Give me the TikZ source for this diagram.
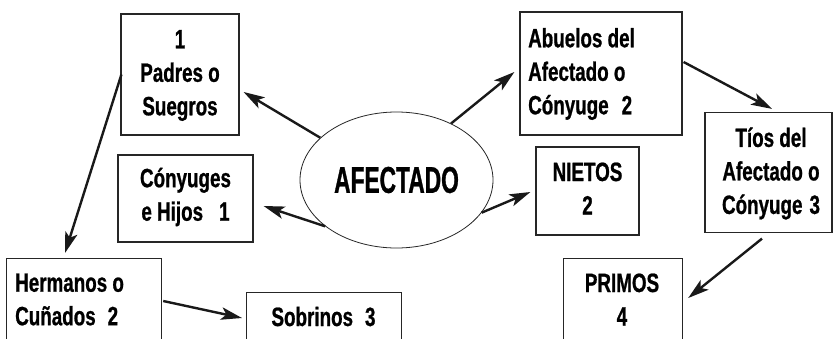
\documentclass[tikz,border=0pt]{standalone}
\usepackage{fontspec}
\newfontfamily\fnarrow{Liberation Sans}[FakeStretch=0.71,FakeBold=0.8]
\newfontfamily\fbig{Liberation Sans}[FakeStretch=0.61,FakeBold=0.8]
\usetikzlibrary{shapes.geometric,arrows.meta,calc}
\begin{document}
\begin{tikzpicture}[x=1pt,y=-1pt,
  box/.style={draw=black!85,line width=1.2pt,rectangle,inner sep=0pt},
  txt/.style={inner sep=0pt,text=black,font=\fnarrow\bfseries\fontsize{26.5}{33.5}\selectfont},
  conn/.style={line width=2.4pt,black!90,-{Stealth[length=21pt,width=12.5pt,inset=5pt]}}
]
\useasboundingbox (0,0) rectangle (833,338);
\clip (0,0) rectangle (833,338);
\fill[white] (0,0) rectangle (833,338);

% boxes
\node[box,minimum width=118,minimum height=121] (padres) at (180,74.5) {};
\node[box,minimum width=135,minimum height=87] (cony) at (185.5,198.5) {};
\node[box,minimum width=155,minimum height=110,anchor=north west] (herm) at (6,258) {};
\node[box,minimum width=155,minimum height=80,anchor=north west] (sobr) at (246,292) {};
\node[box,minimum width=162,minimum height=123] (abue) at (601,73.5) {};
\node[box,minimum width=103,minimum height=88] (niet) at (587.5,191) {};
\node[box,minimum width=127,minimum height=120] (tios) at (768.5,172.5) {};
\node[box,minimum width=119,minimum height=110,anchor=north west] (prim) at (563,258) {};

% ellipse
\node[ellipse,draw=black!85,line width=0.8pt,minimum width=193,minimum height=136,inner sep=0pt,
      font=\fbig\bfseries\fontsize{37.3}{40}\selectfont] (afec) at (396.5,180) {AFECTADO};

% texts
\node[txt,align=center] (tpadres) at (180,75.5) {1\\Padres o\\Suegros};
\node[txt,align=center] (tcony) at (185.5,197) {Cónyuges\\e Hijos\hspace{16pt}1};
\node[txt,align=left,anchor=west] (therm) at (15,299.5) {Hermanos o\\Cuñados\hspace{12pt}2};
\node[txt,anchor=base] (tsobr) at (323.5,326) {Sobrinos\hspace{12pt}3};
\node[txt,align=left,anchor=west] (tabue) at (528,74) {Abuelos del\\Afectado o\\Cónyuge\hspace{13pt}2};
\node[txt,align=center] (tniet) at (587.5,188.5) {NIETOS\\2};
\node[txt,align=center] (ttios) at (771,173.5) {Tíos del\\Afectado o\\Cónyuge\hspace{7pt}3};
\node[txt,align=center] (tprim) at (622,299.5) {PRIMOS\\4};

% connectors
\draw[conn] (afec.151) -- ($(padres.east)+(4,17.5)$);
\draw[conn] (afec.46) -- ($(abue.west)+(-5,-1.5)$);
\draw[conn] (afec.213.7) -- ($(cony.east)+(10,7.5)$);
\draw[conn] (afec.339.5) -- ($(niet.west)+(-5,1)$);
\draw[conn] ($(padres.west)+(1,0)$) -- ($(herm.north west)+(59,-5)$);
\draw[conn] ($(abue.east)+(1,-11.5)$) -- ($(tios.north)+(3.5,-3)$);
\draw[conn] ($(tios.south)+(-6.5,5.5)$) -- ($(prim.north east)+(5,40)$);
\draw[conn] ($(herm.north east)+(1,43)$) -- ($(sobr.north west)+(-4,26)$);
\end{tikzpicture}
\end{document}
